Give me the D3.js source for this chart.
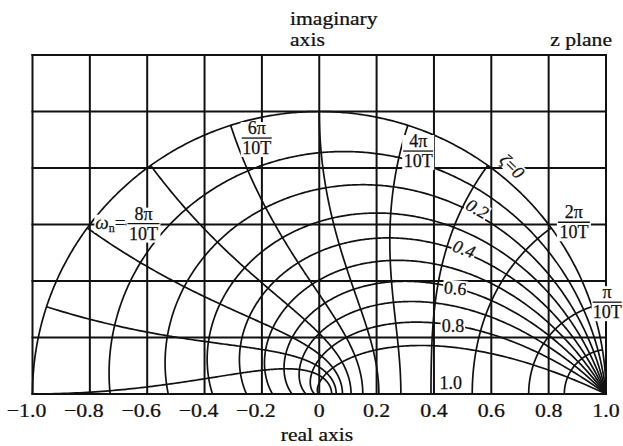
<!DOCTYPE html>
<html>
<head>
<meta charset="utf-8">
<script src="https://cdn.jsdelivr.net/npm/d3@7"></script>
<style>
  html, body { margin: 0; padding: 0; background: #fff; }
  svg { display: block; }
  text { font-family: "Liberation Serif", "Times New Roman", serif; fill: #111; stroke: #111; stroke-width: 0.25px; }
</style>
</head>
<body>
<script>
// ---------------- data ----------------
const xGridValues = [-1.0, -0.8, -0.6, -0.4, -0.2, 0, 0.2, 0.4, 0.6, 0.8, 1.0];
const xTickLabels = ["\u22121.0", "\u22120.8", "\u22120.6", "\u22120.4", "\u22120.2", "0", "0.2", "0.4", "0.6", "0.8", "1.0"];
const yGridValues = [0, 0.2, 0.4, 0.6, 0.8, 1.0, 1.2];
// constant damping ratio curves
const zetaValues = [0, 0.1, 0.2, 0.3, 0.4, 0.5, 0.6, 0.7, 0.8, 0.9];
// constant natural frequency curves, omega_n*T in units of pi/10
const omegaMultiples = [0.5, 1, 2, 3, 4, 5, 6, 7, 8, 9, 10];
// labels
const zetaLabelTexts = ["0", "0.2", "0.4", "0.6", "0.8", "1.0"];
const omegaLabelNumerators = ["\u03c0", "2\u03c0", "4\u03c0", "6\u03c0", "8\u03c0"];
const omegaLabelDenominator = "10T";
const axisTitles = { imag1: "imaginary", imag2: "axis", plane: "z plane", real: "real axis" };

// ---------------- layout (data coordinates of label anchors) ----------------
const zetaLabelLayout = [
  { x: 0.672, y: 0.806, rot: 45, italic: true, greek: true },
  { x: 0.551, y: 0.655, rot: 30, italic: true },
  { x: 0.505, y: 0.513, rot: 20, italic: true },
  { x: 0.474, y: 0.374, rot: 5,  italic: false },
  { x: 0.466, y: 0.240, rot: 0,  italic: false },
  { x: 0.459, y: 0.040, rot: 0,  italic: false }
];
const omegaLabelLayout = [
  { x: 1.004,  y: 0.325, w: 29 },
  { x: 0.888,  y: 0.608, w: 32 },
  { x: 0.345,  y: 0.860, w: 30 },
  { x: -0.218, y: 0.906, w: 30 },
  { x: -0.613, y: 0.603, w: 32 }
];

// ---------------- drawing ----------------
const W = 623, H = 446;
const svg = d3.select("body").append("svg").attr("width", W).attr("height", H);

const x = d3.scaleLinear().domain([-1, 1]).range([32.5, 606]);
const y = d3.scaleLinear().domain([0, 1.2]).range([394, 55]);

const ink = "#111";

// grid
const grid = svg.append("g").attr("stroke", ink).attr("stroke-width", 2).attr("stroke-linecap", "square");
grid.selectAll("line.v").data(xGridValues).join("line").attr("class", "v")
  .attr("x1", d => x(d)).attr("x2", d => x(d)).attr("y1", y(0)).attr("y2", y(1.2));
grid.selectAll("line.h").data(yGridValues).join("line").attr("class", "h")
  .attr("x1", x(-1)).attr("x2", x(1)).attr("y1", d => y(d)).attr("y2", d => y(d));

const line = d3.line().x(d => x(d[0])).y(d => y(d[1])).curve(d3.curveLinear);

// constant-zeta spirals: z = exp(sT), theta from 0 to pi
function zetaCurve(zeta) {
  const pts = [];
  const N = 400;
  const k = zeta / Math.sqrt(1 - zeta * zeta);
  for (let i = 0; i <= N; i++) {
    const th = Math.PI * i / N;
    const r = Math.exp(-k * th);
    pts.push([r * Math.cos(th), r * Math.sin(th)]);
  }
  return pts;
}
// constant-omega_n curves: zeta from 0 to 1
function omegaCurve(m) {
  const wT = m * Math.PI / 10;
  const pts = [];
  const N = 300;
  for (let i = 0; i <= N; i++) {
    const u = (Math.PI / 2) * i / N;
    const zeta = Math.sin(u);
    const r = Math.exp(-zeta * wT);
    const th = wT * Math.cos(u);
    pts.push([r * Math.cos(th), r * Math.sin(th)]);
  }
  return pts;
}

const curves = svg.append("g").attr("fill", "none").attr("stroke", ink)
  .attr("stroke-width", 1.7).attr("stroke-linejoin", "round");
curves.selectAll("path.z").data(zetaValues).join("path").attr("class", "z")
  .attr("d", d => line(zetaCurve(d)));
curves.selectAll("path.w").data(omegaMultiples).join("path").attr("class", "w")
  .attr("d", d => line(omegaCurve(d)));

// text helper
function addText(parent, px, py, str, opt = {}) {
  const t = parent.append("text")
    .attr("transform", `translate(${px},${py}) scale(${opt.sx || 1},1)`)
    .attr("text-anchor", opt.anchor || "start")
    .style("font-size", (opt.size || 18) + "px")
    .text(str);
  if (opt.italic) t.style("font-style", "italic");
  return t;
}

// tick labels
const ticks = svg.append("g");
xGridValues.forEach((v, i) => {
  addText(ticks, x(v) + (v < 0 ? -6 : 0), 417, xTickLabels[i], { anchor: "middle", size: 19, sx: 1.15 });
});

// axis titles
addText(svg, 290, 25, axisTitles.imag1, { size: 18, sx: 1.2 });
addText(svg, 290, 46, axisTitles.imag2, { size: 18, sx: 1.2 });
addText(svg, 612, 46, axisTitles.plane, { size: 18, sx: 1.2, anchor: "end" });
addText(svg, 317, 441, axisTitles.real, { size: 18, sx: 1.2, anchor: "middle" });

// zeta labels
const zl = svg.append("g");
zetaLabelTexts.forEach((s, i) => {
  const L = zetaLabelLayout[i];
  const g = zl.append("g").attr("transform", `translate(${x(L.x)},${y(L.y)}) rotate(${L.rot})`);
  const t = g.append("text").attr("text-anchor", "middle").attr("y", 6)
    .style("font-size", "18px");
  if (L.greek) {
    t.append("tspan").style("font-style", "italic").text("\u03b6");
    t.append("tspan").text("=");
    t.append("tspan").style("font-style", "italic").text(s);
  } else {
    t.text(s);
    if (L.italic) t.style("font-style", "italic");
  }
  const b = t.node().getBBox();
  g.insert("rect", "text").attr("x", b.x - 1).attr("y", b.y + 2).attr("width", b.width + 2)
    .attr("height", b.height - 4).attr("fill", "#fff");
});

// omega_n fraction labels
const ol = svg.append("g");
omegaLabelNumerators.forEach((num, i) => {
  const L = omegaLabelLayout[i];
  const cx = x(L.x), by = y(L.y);
  const g = ol.append("g");
  g.append("rect").attr("x", cx - L.w / 2 - 1).attr("y", by - 16).attr("width", L.w + 2)
    .attr("height", 35).attr("fill", "#fff");
  addText(g, cx, by - 4, num, { anchor: "middle", size: 18 });
  g.append("line").attr("x1", cx - L.w / 2).attr("x2", cx + L.w / 2)
    .attr("y1", by).attr("y2", by).attr("stroke", ink).attr("stroke-width", 1.3);
  addText(g, cx, by + 16, omegaLabelDenominator, { anchor: "middle", size: 18 });
  if (i === omegaLabelNumerators.length - 1) {
    const t = g.append("text").attr("x", cx - L.w / 2 - 2).attr("y", by + 5)
      .attr("text-anchor", "end").style("font-size", "19px");
    t.append("tspan").style("font-style", "italic").text("\u03c9");
    t.append("tspan").attr("dy", 3).style("font-size", "12px").text("n");
    t.append("tspan").attr("dy", -3).text("=");
    const b = t.node().getBBox();
    g.insert("rect", "text").attr("x", b.x - 1).attr("y", b.y + 3).attr("width", b.width + 1)
      .attr("height", b.height - 5).attr("fill", "#fff");
  }
});
</script>
</body>
</html>
